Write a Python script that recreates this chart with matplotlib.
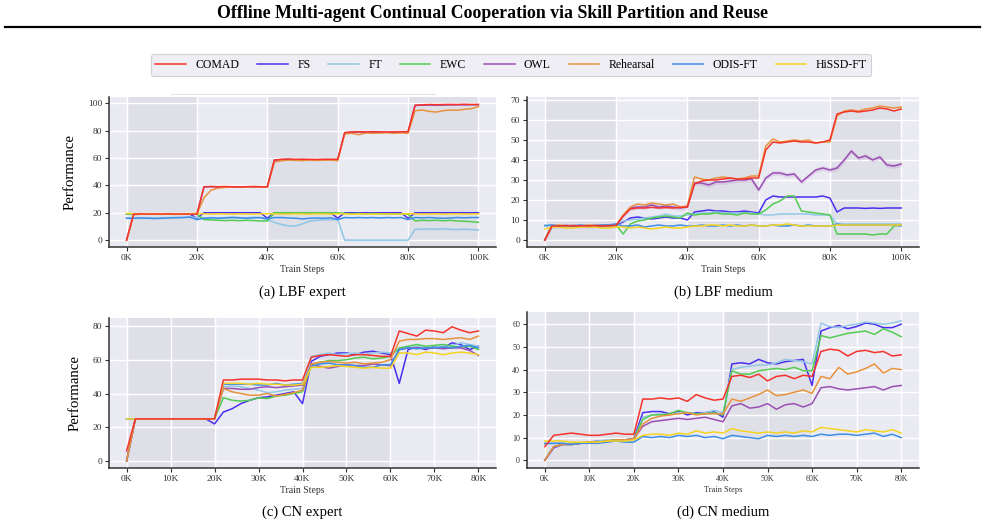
import numpy as np
import matplotlib.pyplot as plt
from matplotlib.lines import Line2D

plt.rcParams['font.family'] = ['Liberation Serif', 'DejaVu Serif']

W, H = 985, 527

methods = ["COMAD", "FS", "FT", "EWC", "OWL", "Rehearsal", "ODIS-FT", "HiSSD-FT"]
colors = ["#f5332b", "#4b2ff0", "#94c8e6", "#52cc52", "#9a4fb4", "#e8923c", "#3d8ee8", "#f4d420"]

lbf_steps = np.arange(0, 101, 2)   # K steps
cn_steps = np.arange(0, 81, 2)

# ---- (a) LBF expert ----
a_comad = [0, 19, 19.2, 19, 19.1, 19, 19.2, 19, 19.1, 19, 19,
           39, 39.2, 39, 39.1, 39, 38.9, 39, 39.2, 39, 39,
           58.5, 59, 59.2, 59, 59.1, 59, 58.9, 59, 59.1, 59,
           78.5, 79, 79.1, 79, 79.2, 79, 78.9, 79, 79.1, 79.2,
           98.5, 98.8, 99, 98.9, 99, 99.1, 99, 99.2, 99, 99.1]
a_fs = [19, 19, 19, 19, 19, 19, 19, 19, 19, 19, 16,
        20, 20, 20, 20, 20, 20, 20, 20, 20, 16,
        20, 20, 20, 20, 20, 20, 20, 20, 20, 16,
        20, 20, 20, 20, 20, 20, 20, 20, 20, 16,
        20, 20, 20, 20, 20, 20, 20, 20, 20, 20]
a_ft = [16, 16.2, 16, 16.3, 16, 16.2, 16.5, 16.3, 16.5, 17, 16.5,
        16, 16.5, 16.3, 16.5, 16.8, 16.5, 16.3, 16.8, 16.5, 15,
        13, 11.5, 10.5, 10.5, 12, 14, 14.5, 15, 15, 15,
        0, 0, 0, 0, 0, 0, 0, 0, 0, 0,
        8, 8, 8.2, 8, 8.3, 8, 7.8, 8, 7.8, 7.5]
a_ewc = [19, 19, 19, 19, 19, 19, 19, 19, 19, 19, 19,
         15, 14.8, 14.5, 14.3, 14.5, 14.2, 14.5, 14.3, 14, 14,
         20, 20, 20, 20, 20, 20, 20, 20, 20, 20,
         19.5, 19.3, 19.5, 19.2, 19.5, 19.3, 19, 19.2, 19, 19,
         14, 14.5, 14.3, 14.5, 14.2, 14.5, 14, 13.8, 13.5, 13]
a_owl = [0, 19, 19, 19, 19, 19, 19, 19, 19, 19, 19,
         38.8, 39, 38.8, 39, 38.7, 38.8, 39, 38.8, 38.9, 38.8,
         58.3, 58.8, 58.9, 58.7, 58.8, 58.6, 58.7, 58.8, 58.7, 58.8,
         78.3, 78.8, 78.9, 78.7, 78.8, 78.9, 78.7, 78.8, 78.9, 79,
         98.3, 98.5, 98.6, 98.5, 98.6, 98.7, 98.8, 98.7, 98.9, 98.8]
a_reh = [0, 18.5, 19, 19.2, 19, 19.1, 19, 19.2, 19, 19.1, 19,
         31, 36.5, 38, 38.5, 38.8, 39, 38.7, 38.9, 38.8, 38.8,
         57, 58, 58.5, 58.3, 58, 58.5, 58.2, 58.4, 58.5, 58,
         77.5, 78, 77, 78.3, 78, 78.2, 78.5, 78, 78.3, 78,
         94.5, 95, 94, 93.5, 94.5, 95, 94.8, 95.5, 96, 97.5]
a_odis = [16, 16, 16.2, 16, 15.8, 16, 16.2, 16.5, 16.5, 16.8, 15,
          16, 16.3, 16, 16.2, 16.5, 16.3, 16, 16.2, 16.5, 15.5,
          16.5, 16.5, 16.2, 16, 15.5, 16, 16.2, 16, 16.3, 15,
          16.5, 16.3, 16.5, 16.3, 16.5, 16.2, 16.5, 16.3, 16.5, 15,
          16.5, 16.3, 16.5, 16.2, 16, 16.2, 16.5, 16.3, 16.5, 16.5]
a_hissd = [19.5, 19.3, 19.2, 19.3, 19.2, 19.3, 19.2, 19.3, 19.2, 19.3, 19.5,
           19.2, 19, 19.2, 19.1, 19, 19.2, 19.1, 19, 19.2, 19.3,
           19.2, 19.1, 19, 19.2, 19.1, 19, 19.2, 19.1, 19, 19.3,
           19.2, 19, 19.1, 19.2, 19, 19.1, 19.2, 19, 19.1, 19.3,
           19.2, 19, 19.1, 19.2, 19, 19.1, 19.2, 19, 19.1, 19.2]

# ---- (b) LBF medium ----
b_comad = [0, 7, 7, 7.2, 7, 7.1, 7, 7.2, 7, 7.2, 7.3,
           12, 15.5, 16, 16, 16.3, 16, 16.2, 16, 16.3, 16.5,
           28, 29.5, 30, 30, 30.5, 31, 30.5, 30.5, 31, 31,
           45, 49, 48.5, 49, 49.5, 49, 49, 48.5, 49, 50,
           63, 64, 64.5, 64, 64.5, 65, 66, 65.5, 64.5, 65.5]
b_fs = [0, 7, 7, 7, 7.2, 7, 7, 7.2, 7, 7.3, 7.5,
        9, 11, 11.5, 11, 10.5, 11, 11.5, 11, 11, 10,
        14, 14.5, 15, 14.5, 14.5, 14, 14, 14.5, 14, 13.5,
        20, 22, 21.5, 21.5, 21.5, 21.5, 21.5, 21.5, 22, 21,
        14, 16, 16, 16, 15.8, 16, 15.8, 16, 16, 16]
b_ft = [7.5, 7.5, 7, 7.2, 7, 7.2, 7, 7, 7.2, 7.5, 8,
        9.5, 10, 10.5, 11, 11.5, 12, 13, 12, 12, 12.5,
        13, 13.5, 13.5, 14, 13.5, 13.5, 13.5, 13.5, 13.5, 13,
        12.5, 12.5, 13, 13, 13, 13, 13, 12.5, 12.5, 12.5,
        8, 8, 8, 8, 8, 8, 8, 8, 8, 8]
b_ewc = [0, 7, 7, 7, 7.2, 7, 7, 7, 7.2, 7, 7.5,
         3, 8, 9.5, 10, 11, 11.5, 12, 11.5, 11, 13.5,
         12.5, 13, 13, 13.5, 13, 13, 12.5, 13.5, 13, 13,
         15, 18, 19.5, 22, 22, 14.5, 14, 13.5, 13, 12.5,
         3, 3, 3, 3, 3, 2.5, 3, 3, 7, 7.5]
b_owl = [0, 7, 7, 7.2, 7, 7.1, 7, 7.2, 7, 7.2, 7.3,
         12, 16, 16.5, 16.5, 17.5, 16.5, 17, 16.5, 16, 16.5,
         28.5, 28.5, 27.5, 29, 29, 29.5, 30, 30, 30.5, 25,
         31, 33.5, 33.5, 32.5, 33, 29, 32, 35, 36, 35,
         36, 40, 44.5, 41, 42, 40, 41.5, 37.5, 37, 38]
b_reh = [0, 7, 7.5, 7, 7.3, 7, 7.5, 7.2, 7.5, 7.2, 7.5,
         12.5, 16.5, 18, 17.5, 18.5, 18, 17.5, 18, 16.5, 17,
         31.5, 30.5, 30, 31, 31.5, 31, 30.5, 31, 32, 32,
         47, 50.5, 49, 49.5, 50, 49.5, 50, 48.5, 49, 49,
         62, 64.5, 65, 64.5, 65.5, 66, 67, 66.5, 66, 66.5]
b_odis = [7, 7.5, 7, 7.2, 7, 7.5, 7, 7.2, 7.5, 7.5, 8,
          7, 7, 7.5, 6.5, 7, 7.5, 7, 7, 7.5, 7,
          7, 7.5, 7, 7, 7.5, 7, 7.5, 7, 7.5, 7,
          7, 7.5, 7, 7, 7.5, 7, 7.5, 7, 7, 7,
          8, 7.5, 7.5, 7.5, 7.5, 7.5, 7.5, 7.5, 7.5, 7]
b_hissd = [5.5, 6.5, 6.5, 6, 6, 6.5, 6.5, 6.5, 6, 6, 6.5,
           6.5, 6, 6.5, 6, 5.5, 6, 6.5, 6, 6, 6.5,
           7, 7, 7.5, 7.5, 7, 7.5, 7, 7, 7.5, 7,
           7, 7.5, 7.5, 8, 7.5, 7, 7, 7, 7, 7,
           7.5, 7.5, 7.5, 7.5, 7.5, 7.5, 7.5, 7.5, 7.5, 7.5]

# ---- (c) CN expert ----
c_comad = [6, 25, 25, 25, 25, 25, 25, 25, 25, 25, 25,
           48, 48, 48.5, 48.5, 48.5, 48, 48, 47.5, 48, 48,
           61.5, 62.5, 63, 62.5, 62, 63, 63, 62.5, 62, 62,
           77, 75.5, 74, 77.5, 77, 76, 79.5, 77.5, 76, 77]
c_fs = [0, 25, 25, 25, 25, 25, 25, 25, 25, 25, 22,
        29, 31, 34, 36, 37.5, 38, 39, 40, 41, 34,
        59, 62, 63, 64, 64, 63, 64.5, 65, 64, 63,
        46, 66, 67.5, 66, 68, 67, 70, 69, 66, 68]
c_ft = [25, 25, 25, 25, 25, 25, 25, 25, 25, 25, 25,
        44, 44.5, 44, 43, 42, 40.5, 41, 42, 42.5, 43,
        62, 63, 64, 63, 63.5, 64, 63, 64, 64.5, 64,
        66, 67, 68, 67, 67.5, 68, 68.5, 70, 69, 68]
c_ewc = [0, 25, 25, 25, 25, 25, 25, 25, 25, 25, 25,
         37.5, 36, 35.5, 36, 37.5, 37, 38.5, 39, 40, 41,
         57, 58.5, 59.5, 59.5, 60, 61, 61.5, 60.5, 61, 62,
         67, 68, 69, 68, 68.5, 69, 68, 67.5, 68, 66]
c_owl = [0, 25, 25, 25, 25, 25, 25, 25, 25, 25, 25,
         43, 43, 42.5, 42.5, 43.5, 44, 43.5, 44, 44.5, 45,
         57, 56, 55, 56, 57, 56.5, 56.5, 57.5, 57, 56.5,
         66, 67, 67, 66.5, 67, 66.5, 67, 67, 65.5, 62.5]
c_reh = [0, 25, 25, 25, 25, 25, 25, 25, 25, 25, 25,
         43, 41, 40, 39, 39, 40, 38.5, 39.5, 40.5, 42,
         57.5, 58.5, 59, 58.5, 58, 58.5, 57.5, 58, 58.5, 60,
         71, 72, 72, 72.5, 72.5, 72, 72.5, 73, 72, 74]
c_odis = [25, 25, 25, 25, 25, 25, 25, 25, 25, 25, 25,
          45.5, 45.5, 45.5, 45.5, 45, 45, 46, 45, 45.5, 46,
          56, 57.5, 58, 57, 57, 56.5, 55.5, 55.5, 57, 57,
          66, 67, 66.5, 67, 67, 67.5, 67, 68, 68.5, 67]
c_hissd = [25, 25, 25, 25, 25, 25, 25, 25, 25, 25, 25,
           46, 46, 46, 45.5, 46, 45.5, 45.5, 45, 45, 45.5,
           55.5, 55.5, 56, 56.5, 56, 55.5, 55, 55.5, 55, 55,
           64, 64, 63, 64.5, 64, 63, 64, 64.5, 64, 63]

# ---- (d) CN medium ----
d_comad = [6, 11, 11.5, 12, 11.5, 11, 11, 11.5, 12, 11.5, 11.5,
           27, 27, 27.5, 27, 27.5, 26, 29, 27.5, 26.5, 27,
           37, 37.5, 36.5, 38, 35, 37, 37.5, 36, 37.5, 37,
           48, 49, 48.5, 46, 48, 48.5, 47.5, 48, 46, 46.5]
d_fs = [0, 5.5, 7, 7, 7.5, 8, 8.5, 8.5, 9, 9, 9.5,
        21, 21.5, 21.5, 20.5, 21.5, 20, 21, 21, 21.5, 19,
        42.5, 43, 42.5, 44.5, 43, 42.5, 43.5, 44, 44.5, 33,
        57, 58.5, 59.5, 58, 59, 60.5, 60, 58.5, 58.5, 60]
d_ft = [7, 7.5, 7.5, 7, 7.5, 8, 8.5, 9, 8.5, 9, 9,
        19, 20, 20.5, 20, 21, 21, 20.5, 21, 22, 21,
        40, 41, 41.5, 42, 42, 43, 44.5, 44, 43.5, 42.5,
        60.5, 59, 58.5, 59.5, 60, 61, 60.5, 60, 60.5, 61.5]
d_ewc = [0, 6, 7, 7, 7.5, 8, 8, 8.5, 9, 9, 9.5,
         18, 20, 20, 20.5, 22, 21, 20.5, 20.5, 21, 20,
         39.5, 38, 38, 39.5, 40, 40.5, 40, 41, 39.5, 39.5,
         55, 54, 55, 56, 56.5, 57, 55.5, 58, 56.5, 54.5]
d_owl = [0, 6, 7, 7, 7.5, 8, 8, 8.5, 8.5, 9, 9.5,
         15, 17, 17.5, 18, 18.5, 18, 18.5, 19, 18, 17,
         24, 25, 23, 23.5, 25, 22.5, 24.5, 25, 23.5, 25,
         32, 32.5, 31.5, 31, 31.5, 32, 32.5, 31, 32.5, 33]
d_reh = [0, 6, 7, 7, 7.5, 8, 8, 8.5, 9, 9, 9.5,
         16, 18.5, 19.5, 20, 20.5, 21, 20, 20.5, 20.5, 20.5,
         27, 26, 27.5, 29, 31, 28.5, 29, 30, 31, 29.5,
         37, 36, 41, 38, 39, 40.5, 42.5, 38.5, 40.5, 40]
d_odis = [7.5, 7.5, 7.5, 7, 7.5, 7.5, 7.5, 8, 8.5, 8, 8,
          10.5, 10, 10.5, 10, 11, 10.5, 11, 10, 10.5, 9.5,
          11, 10.5, 10, 9.5, 11, 10.5, 11, 10.5, 11, 10.5,
          11.5, 11, 11.5, 11.5, 11, 11.5, 12, 10.5, 11.5, 10]
d_hissd = [8.5, 8.5, 8.5, 8, 8, 8, 8, 8.5, 8.5, 8.5, 9,
           11, 11.5, 11.5, 11, 12, 11.5, 13, 12, 12.5, 12,
           14, 13, 12.5, 12, 12.5, 12, 12.5, 12, 13, 12.5,
           14.5, 14, 13.5, 13, 12.5, 13.5, 13, 12.5, 13.5, 12]

panels = [
    dict(steps=lbf_steps, series=[a_comad, a_fs, a_ft, a_ewc, a_owl, a_reh, a_odis, a_hissd],
         rect=(109, 97, 387, 150), ylim=(-5, 104.5), yticks=range(0, 101, 20),
         xticks=range(0, 101, 20), shade=[(0, 20), (40, 60), (80, 100)],
         caption="(a) LBF expert", ylabel=True, fs=6.8),
    dict(steps=lbf_steps, series=[b_comad, b_fs, b_ft, b_ewc, b_owl, b_reh, b_odis, b_hissd],
         rect=(527, 97, 392, 150), ylim=(-3.5, 71.5), yticks=range(0, 71, 10),
         xticks=range(0, 101, 20), shade=[(0, 20), (40, 60), (80, 100)],
         caption="(b) LBF medium", ylabel=False, fs=6.8),
    dict(steps=cn_steps, series=[c_comad, c_fs, c_ft, c_ewc, c_owl, c_reh, c_odis, c_hissd],
         rect=(109, 318, 387, 150), ylim=(-4.1, 84.7), yticks=range(0, 81, 20),
         xticks=range(0, 81, 10), shade=[(0, 20), (40, 60)],
         caption="(c) CN expert", ylabel=True, fs=6.8),
    dict(steps=cn_steps, series=[d_comad, d_fs, d_ft, d_ewc, d_owl, d_reh, d_odis, d_hissd],
         rect=(527, 312, 392, 156), ylim=(-3.4, 65.4), yticks=range(0, 61, 10),
         xticks=range(0, 81, 10), shade=[(0, 20), (40, 60)],
         caption="(d) CN medium", ylabel=False, fs=5.8),
]

fig = plt.figure(figsize=(W / 100, H / 100), dpi=100)

fig.text(0.5, 1 - 13 / H, "Offline Multi-agent Continual Cooperation via Skill Partition and Reuse",
         ha='center', va='center', fontsize=12.8, fontweight='bold')
fig.add_artist(Line2D([5 / W, 980 / W], [1 - 27 / H] * 2, color='black', lw=1.6))
fig.add_artist(Line2D([171 / W, 435 / W], [1 - 94 / H] * 2, color='#e4e4e4', lw=0.8))

handles = None
for p in panels:
    x0, y0, w, h = p['rect']
    ax = fig.add_axes([x0 / W, 1 - (y0 + h) / H, w / W, h / H])
    ax.set_facecolor('#eaeaf2')
    for s0, s1 in p['shade']:
        ax.axvspan(s0, s1, color='#dfdfe7', lw=0, zorder=0.2)
    ax.set_axisbelow(True)
    ax.grid(color='white', lw=1.0)
    lines = []
    for k, (vals, c) in enumerate(zip(p['series'], colors)):
        ln, = ax.plot(p['steps'], vals, color=c, lw=1.1, label=methods[k],
                      zorder=4 if k == 0 else 3)
        lines.append(ln)
    # faint variance bands on the noisier runs
    if p['caption'].startswith('(b)'):
        owl = np.array(b_owl)
        ax.fill_between(p['steps'], owl - 1.2, owl + 1.2, color=colors[4], alpha=0.15, lw=0)
    if p['caption'].startswith('(a)'):
        ft = np.array(a_ft)
        ax.fill_between(p['steps'], ft - 0.8, ft + 0.8, color=colors[2], alpha=0.25, lw=0)
    if handles is None:
        handles = lines

    ax.set_xlim(p['steps'][0] - 0.05 * p['steps'][-1], p['steps'][-1] * 1.05)
    ax.set_ylim(*p['ylim'])
    ax.set_yticks(list(p['yticks']))
    ax.set_xticks(list(p['xticks']))
    ax.set_xticklabels([f"{t}K" for t in p['xticks']])
    for side in ['top', 'right']:
        ax.spines[side].set_visible(False)
    for side in ['left', 'bottom']:
        ax.spines[side].set_color('#333333')
        ax.spines[side].set_linewidth(1.1)
    ax.tick_params(direction='out', length=3, width=0.8, color='#333333',
                   labelsize=p['fs'], pad=2, labelcolor='#333333')
    ax.set_xlabel("Train Steps", fontsize=p['fs'] + 0.2, labelpad=2, color='#333333')
    if p['ylabel']:
        ax.set_ylabel("Performance", fontsize=10.7, labelpad=8)
    cx = (x0 + w / 2) / W
    cy = 1 - (292 if y0 < 200 else 512) / H
    fig.text(cx, cy, p['caption'], ha='center', va='center', fontsize=10.5)

leg = fig.legend(handles, methods, loc='center', bbox_to_anchor=(511 / W, 1 - 65 / H),
                 ncol=8, fontsize=8.5, handlelength=2.6, columnspacing=1.5,
                 frameon=True, fancybox=True, borderpad=0.4)
leg.get_frame().set_facecolor('#eaeaf2')
leg.get_frame().set_edgecolor('#c8c8c8')
leg.get_frame().set_linewidth(0.8)

fig.savefig("out.png", dpi=100)
